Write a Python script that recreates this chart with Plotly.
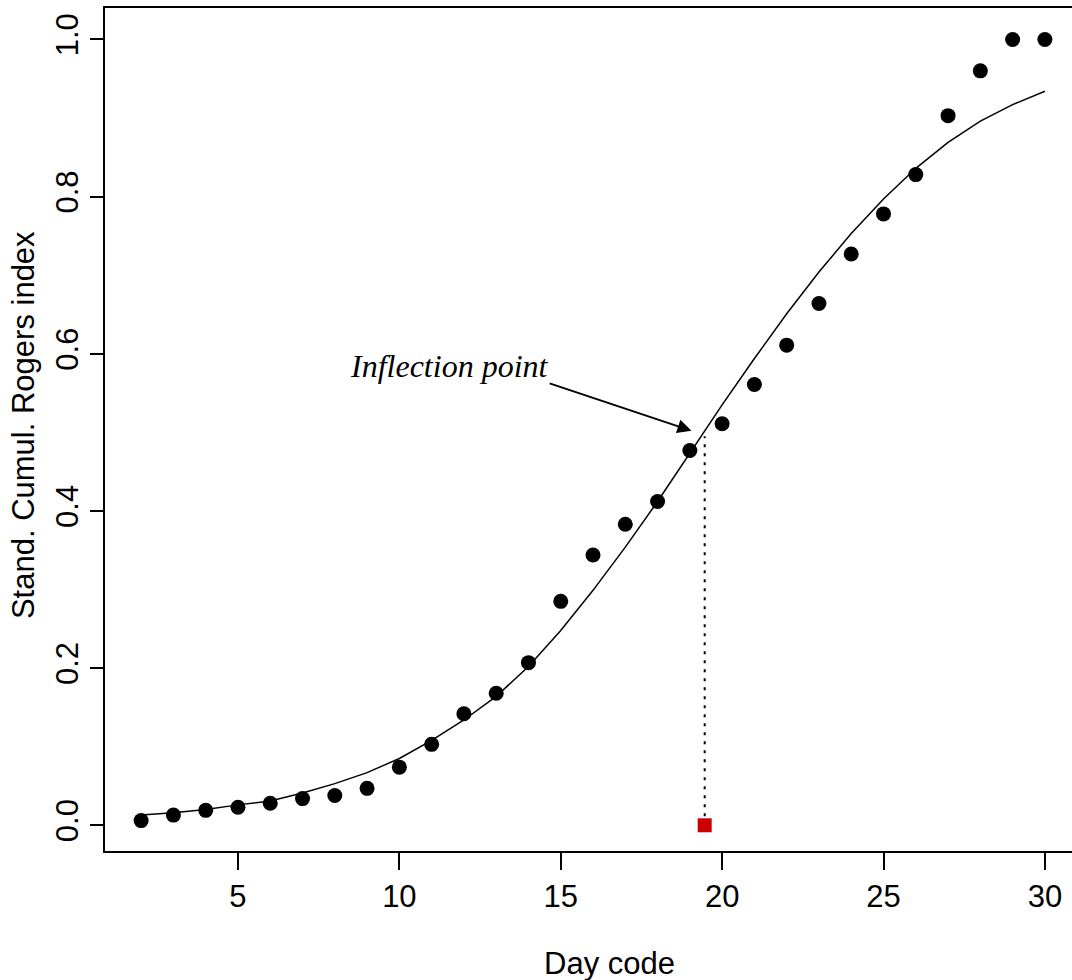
import plotly.graph_objects as go

# Data
day_code = list(range(2, 31))
rogers_obs = [0.006, 0.013, 0.019, 0.023, 0.028, 0.034, 0.038, 0.047, 0.074, 0.103,
              0.142, 0.168, 0.207, 0.285, 0.344, 0.383, 0.412, 0.477, 0.511, 0.561,
              0.611, 0.664, 0.727, 0.778, 0.828, 0.903, 0.960, 1.000, 1.000]
rogers_fit = [0.013, 0.016, 0.020, 0.026, 0.031, 0.041, 0.053, 0.067, 0.085, 0.108,
              0.134, 0.164, 0.202, 0.248, 0.299, 0.354, 0.412, 0.474, 0.535, 0.594,
              0.651, 0.704, 0.753, 0.797, 0.836, 0.869, 0.896, 0.917, 0.934]
inflection_x = 19.46
inflection_y = 0.495

x_ticks = [5, 10, 15, 20, 25, 30]
y_ticks = [0.0, 0.2, 0.4, 0.6, 0.8, 1.0]
y_tick_labels = ["0.0", "0.2", "0.4", "0.6", "0.8", "1.0"]

SANS = "Liberation Sans, Arial, Helvetica, sans-serif"
SERIF = "Liberation Serif, Times New Roman, serif"

fig = go.Figure()

fig.add_trace(go.Scatter(
    x=day_code, y=rogers_fit, mode="lines",
    line=dict(color="black", width=1.5), hoverinfo="skip", showlegend=False))

fig.add_trace(go.Scatter(
    x=day_code, y=rogers_obs, mode="markers",
    marker=dict(symbol="circle", size=15, color="black"), showlegend=False))

fig.add_trace(go.Scatter(
    x=[inflection_x, inflection_x], y=[0, inflection_y], mode="lines",
    line=dict(color="black", width=2, dash="3px,6px"), showlegend=False))

fig.add_trace(go.Scatter(
    x=[inflection_x], y=[0], mode="markers",
    marker=dict(symbol="square", size=14, color="#CC0000"), showlegend=False))

fig.add_annotation(
    x=11.56, y=0.584, xref="x", yref="y", text="<i>Inflection point</i>",
    showarrow=False, font=dict(family=SERIF, size=32, color="black"),
    xanchor="center", yanchor="middle")

fig.add_annotation(
    x=19.05, y=0.502, ax=14.61, ay=0.563, xref="x", yref="y", axref="x", ayref="y",
    text="", showarrow=True, arrowhead=2, arrowsize=1.4, arrowwidth=2,
    arrowcolor="black", standoff=0)

fig.add_annotation(
    x=0.522, y=-0.133, xref="paper", yref="paper", text="Day code",
    showarrow=False, font=dict(family=SANS, size=31, color="black"),
    xanchor="center", yanchor="middle")

fig.add_annotation(
    x=-0.085, y=0.505, xref="paper", yref="paper", text="Stand. Cumul. Rogers index",
    textangle=-90, showarrow=False, font=dict(family=SANS, size=31, color="black"),
    xanchor="center", yanchor="middle")

fig.update_xaxes(
    range=[0.88, 30.84], tickmode="array", tickvals=x_ticks,
    ticks="outside", ticklen=17, tickwidth=1.5, tickcolor="black",
    showline=True, linecolor="black", linewidth=1.5, mirror=True,
    showgrid=False, zeroline=False,
    tickfont=dict(family=SANS, size=31, color="black"))

fig.update_yaxes(
    range=[-0.0327, 1.040], tickmode="array", tickvals=y_ticks, ticktext=y_tick_labels,
    ticks="outside", ticklen=13, tickwidth=1.5, tickcolor="black", tickangle=-90,
    showline=True, linecolor="black", linewidth=1.5, mirror=False,
    showgrid=False, zeroline=False,
    tickfont=dict(family=SANS, size=31, color="black"))

fig.update_layout(
    width=1072, height=980,
    margin=dict(l=105, r=0, t=8, b=129),
    paper_bgcolor="white", plot_bgcolor="white",
    showlegend=False)

fig.write_html("out.html")
